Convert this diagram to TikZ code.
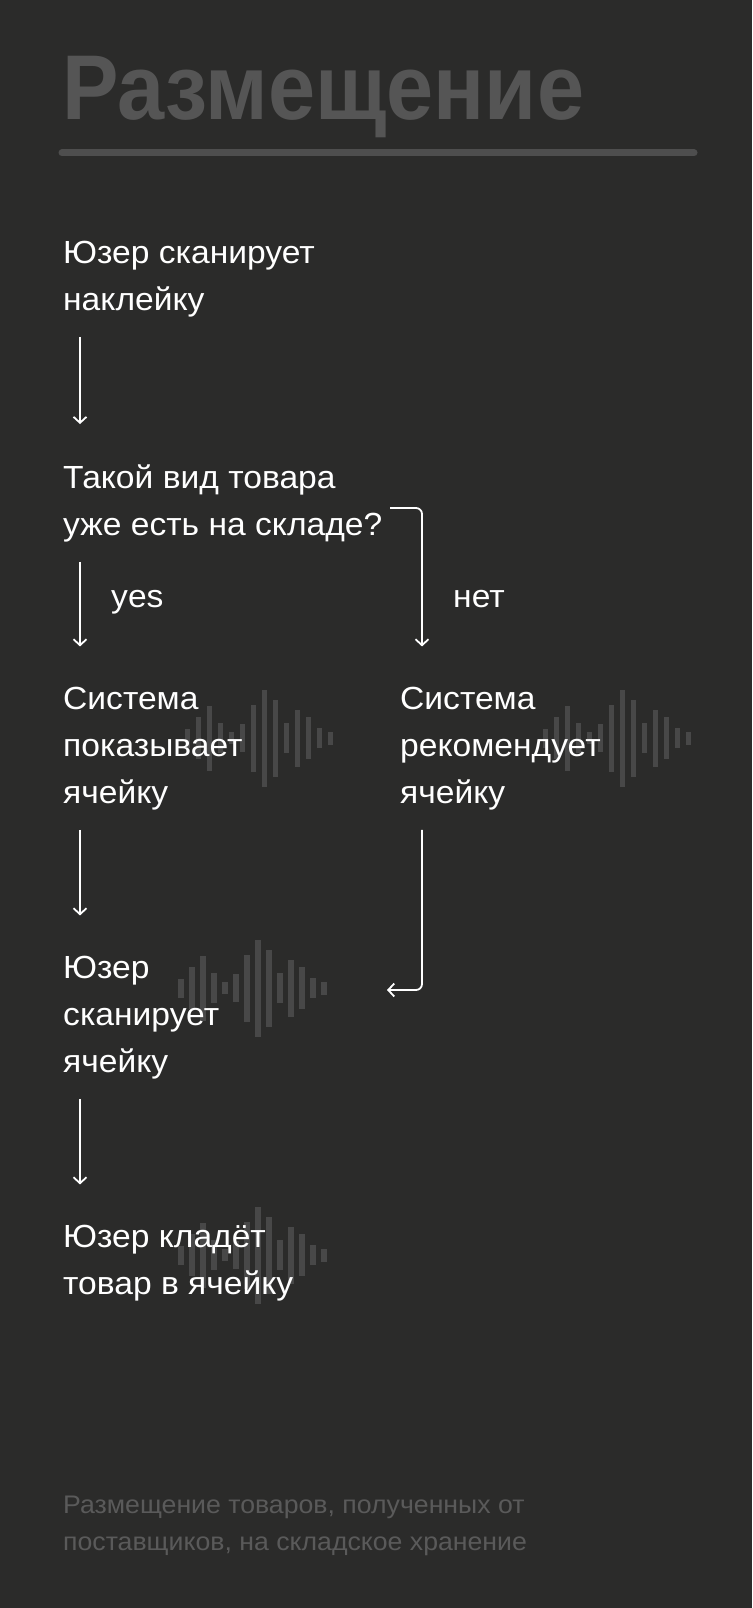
\documentclass[tikz,border=0pt]{standalone}
\usepackage{fontspec}
\setmainfont{Liberation Sans}
\newfontfamily\headfont[FakeStretch=0.92]{Liberation Sans}
\newfontfamily\bodyfont[FakeStretch=1.05]{Liberation Sans}
\usetikzlibrary{arrows.meta}
\definecolor{bgdark}{RGB}{43,43,42}
\definecolor{headgrey}{RGB}{85,85,85}
\definecolor{rulegrey}{RGB}{78,78,78}
\definecolor{notegrey}{RGB}{90,90,90}
\definecolor{wavegrey}{RGB}{72,72,72}

\begin{document}
\begin{tikzpicture}
    [x=1pt,y=-1pt,
    stage/.style={anchor=base west,inner sep=0pt,align=left,text=white,
      font=\bodyfont\fontsize{32}{47}\selectfont},
    answer/.style={anchor=base west,inner sep=0pt,text=white,
      font=\bodyfont\fontsize{32}{47}\selectfont},
    flow/.style={white,line width=1.8pt,-{Straight Barb[length=6pt,width=13pt]},
      shorten <=20pt,shorten >=40pt},
    bar/.style={fill=wavegrey}]

    \fill[bgdark] (0,0) rectangle (752,1608);

    % sound waves behind the texts
    \foreach \wx/\wy in {187.5/738,545.5/738,181/988,181/1255}
      \foreach \h [count=\i] in {19,42,65,30,12,28,67,97,77,30,57,42,20,13}
        \fill[bar] ({\wx+11*(\i-1)-2.75},{\wy-\h/2}) rectangle ++(5.5,\h);

    \node[anchor=base west,inner sep=0pt,text=headgrey,
      font=\headfont\bfseries\fontsize{92}{92}\selectfont] (title) at (62,120) {Размещение};
    \draw[rulegrey,line width=7pt,line cap=round] (62,153) -- (694,153);

    % base = last line of each block
    \node[stage] (scan) at (63,310) {Юзер сканирует\\наклейку};
    \node[stage] (check) at (63,535) {Такой вид товара\\уже есть на складе?};
    \node[stage] (show) at (63,803) {Система\\показывает\\ячейку};
    \node[stage] (advise) at (400,803) {Система\\рекомендует\\ячейку};
    \node[stage] (cell) at (63,1072) {Юзер\\сканирует\\ячейку};
    \node[stage] (put) at (63,1294) {Юзер кладёт\\товар в ячейку};

    \node[answer] (yes) at (111,607) {yes};
    \node[answer] (no) at (453,607) {нет};

    \coordinate (nofork) at (390,508);
    \coordinate (back) at (387,990);

    \draw[flow] ([xshift=17pt]scan.south west) -- ([xshift=17pt]check.north west);
    \draw[flow] ([xshift=17pt]check.south west) -- ([xshift=17pt]show.north west);
    \draw[flow,shorten <=0pt,rounded corners=6pt] (nofork) -| ([xshift=22pt]advise.north west);
    \draw[flow] ([xshift=17pt]show.south west) -- ([xshift=17pt]cell.north west);
    \draw[flow,shorten >=0pt,rounded corners=6pt] ([xshift=22pt]advise.south west) |- (back);
    \draw[flow] ([xshift=17pt]cell.south west) -- ([xshift=17pt]put.north west);

    \node[anchor=base west,inner sep=0pt,align=left,text=notegrey,
      font=\bodyfont\fontsize{25.4}{37}\selectfont] (note) at (63,1550)
      {Размещение товаров, полученных от\\поставщиков, на складское хранение};
\end{tikzpicture}
\end{document}
